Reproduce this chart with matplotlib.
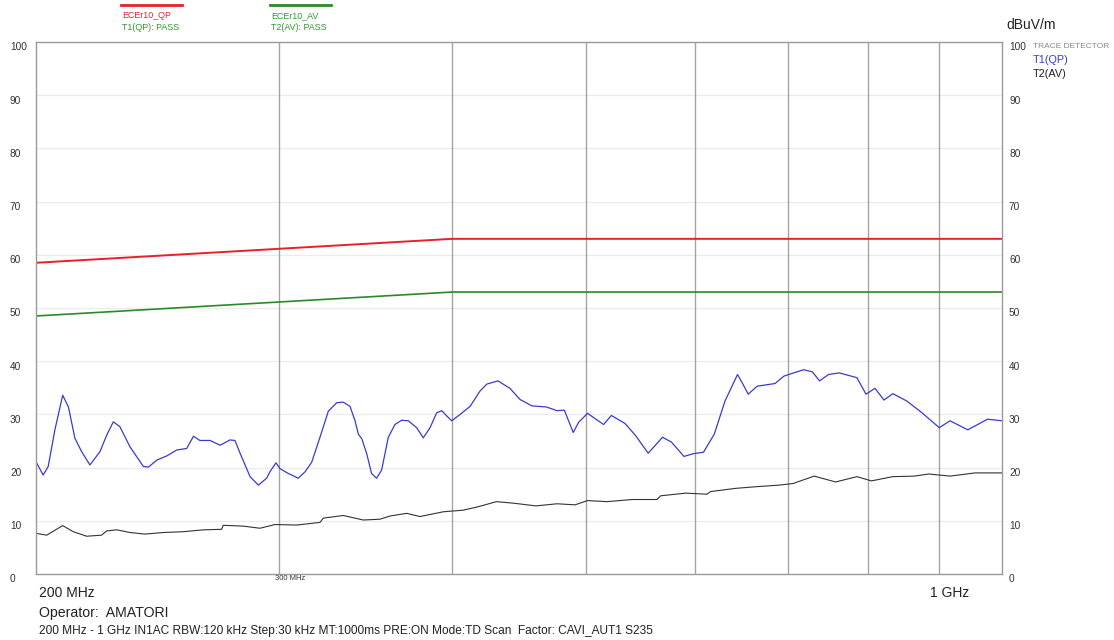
import matplotlib
matplotlib.use('Agg')
import matplotlib.pyplot as plt
import matplotlib.transforms as mtransforms

plt.rcParams['font.family'] = ['Liberation Sans', 'DejaVu Sans']

# limit lines (MHz, dBuV/m)
limit_freq = [200, 400, 1000]
limit_qp = [58.5, 63, 63]
limit_av = [48.5, 53, 53]

# T1(QP) trace
qp_freq = [200, 202.4, 204.1, 206.4, 209.1, 211.1, 213.4, 215.8, 218.8, 222.5,
           225.0, 227.5, 230.0, 233.9, 239.2, 241.2, 244.6, 248.7, 252.8, 257.1,
           260.0, 262.8, 267.3, 271.8, 276.3, 278.6, 281.0, 285.7, 289.7, 293.7,
           295.3, 298.3, 300.3, 304.5, 309.6, 313.1, 316.6, 321.0, 325.5, 330.1,
           333.7, 337.5, 340.3, 342.2, 344.2, 347.0, 349.8, 352.7, 355.7, 359.7,
           363.7, 367.8, 371.9, 377.1, 381.3, 385.6, 389.9, 393.2, 396.5, 399.8,
           405.4, 412.2, 419.1, 423.9, 431.8, 440.5, 448.0, 457.0, 468.1, 476.4,
           482.3, 489.5, 493.9, 501.3, 514.9, 521.6, 533.6, 543.2, 554.6, 568.0,
           576.5, 588.7, 597.5, 608.2, 619.2, 630.3, 643.6, 649.4, 655.2, 665.0,
           685.1, 695.4, 718.4, 729.1, 737.9, 749.0, 762.5, 785.3, 797.2, 809.3,
           821.5, 833.7, 853.5, 874.3, 900.8, 917.0, 944.7, 976.1, 1000]
qp_level = [21.1, 18.6, 20.2, 27.1, 33.6, 31.4, 25.5, 23.0, 20.5, 23.0,
            26.1, 28.6, 27.7, 23.9, 20.2, 20.1, 21.4, 22.2, 23.3, 23.6,
            25.9, 25.1, 25.1, 24.2, 25.2, 25.1, 22.7, 18.3, 16.7, 18.0,
            19.2, 20.9, 19.8, 18.9, 18.0, 19.2, 21.0, 25.7, 30.6, 32.2,
            32.3, 31.5, 28.8, 26.3, 25.4, 22.6, 18.9, 18.0, 19.5, 25.7,
            28.1, 28.9, 28.8, 27.5, 25.6, 27.5, 30.3, 30.7, 29.7, 28.8,
            30.0, 31.5, 34.4, 35.7, 36.3, 34.9, 32.8, 31.6, 31.4, 30.7,
            30.8, 26.6, 28.5, 30.2, 28.1, 29.8, 28.3, 26.0, 22.7, 25.7,
            24.8, 22.1, 22.6, 22.9, 26.3, 32.5, 37.5, 35.7, 33.8, 35.3,
            35.8, 37.2, 38.4, 38.0, 36.3, 37.5, 37.8, 36.9, 33.8, 34.9,
            32.7, 33.9, 32.5, 30.4, 27.5, 28.8, 27.1, 29.1, 28.8]

# T2(AV) trace
av_freq = [200, 203.6, 209.1, 212.8, 217.6, 223.1, 225.0, 228.8, 233.9, 239.8,
           247.3, 255.6, 264.3, 272.5, 273.2, 282.5, 290.5, 297.8, 308.8, 321.0,
           322.8, 333.7, 345.0, 354.8, 360.7, 370.9, 379.2, 394.3, 407.6, 417.9,
           430.7, 443.7, 459.9, 476.4, 491.0, 501.3, 517.8, 539.9, 562.8, 566.3,
           590.4, 611.7, 615.5, 641.7, 663.1, 689.3, 705.8, 731.3, 757.9, 785.3,
           804.4, 833.7, 864.2, 885.0, 917.0, 955.9, 1000]
av_level = [7.65, 7.3, 9.1, 7.95, 7.1, 7.3, 8.1, 8.3, 7.8, 7.5,
            7.8, 7.95, 8.3, 8.4, 9.15, 9.0, 8.6, 9.3, 9.2, 9.7,
            10.5, 11.0, 10.15, 10.3, 10.9, 11.4, 10.8, 11.7, 12.0, 12.65,
            13.6, 13.3, 12.8, 13.2, 13.0, 13.8, 13.6, 14.0, 14.0, 14.7,
            15.2, 15.0, 15.5, 16.1, 16.4, 16.7, 17.0, 18.4, 17.3, 18.3,
            17.5, 18.3, 18.4, 18.8, 18.4, 19.0, 19.0]

grid_freq = [300, 400, 500, 600, 700, 800, 900]
y_ticks = list(range(0, 101, 10))

W, H = 1114, 640
fig = plt.figure(figsize=(W / 100, H / 100), dpi=100)
ax = fig.add_axes([36 / W, 1 - 574 / H, (1002 - 36) / W, (574 - 42) / H])

ax.set_xscale('log')
ax.set_xlim(200, 1000)
ax.set_ylim(0, 100)
ax.set_xticks([])
ax.set_yticks([])
ax.minorticks_off()
for s in ax.spines.values():
    s.set_color('#9a9a9a')
    s.set_linewidth(1)

for v in y_ticks[1:-1]:
    ax.axhline(v, color='#ececec', lw=1, zorder=0)
for f in grid_freq:
    ax.axvline(f, color='#a4a4a4', lw=1, zorder=0)

ax.plot(limit_freq, limit_qp, color='#e8202a', lw=1.4)
ax.plot(limit_freq, limit_av, color='#2a8a2a', lw=1.2)
ax.plot(qp_freq, qp_level, color='#3a3ad0', lw=0.9)
ax.plot(av_freq, av_level, color='#333333', lw=0.8)

# y labels both sides
left_tr = mtransforms.blended_transform_factory(fig.transFigure, ax.transData)
for v in y_ticks:
    ax.text(10 / W, v - 1.0, str(v), transform=left_tr, fontsize=7.3,
            ha='left', va='center', color='#333333')
    ax.text(1009 / W, v - 1.0, str(v), transform=left_tr, fontsize=7.3,
            ha='left', va='center', color='#333333')

# top legend
fig.add_artist(plt.Line2D([121 / W, 182 / W], [1 - 5 / H] * 2, color='#e8202a', lw=2))
fig.add_artist(plt.Line2D([270 / W, 331 / W], [1 - 5 / H] * 2, color='#2a8a2a', lw=2))
fig.text(122 / W, 1 - 16 / H, 'ECEr10_QP', color='#e8202a', fontsize=6.4, va='center')
fig.text(122 / W, 1 - 28 / H, 'T1(QP): PASS', color='#2a9a2a', fontsize=6.4, va='center')
fig.text(271 / W, 1 - 16 / H, 'ECEr10_AV', color='#2a9a2a', fontsize=6.4, va='center')
fig.text(271 / W, 1 - 28 / H, 'T2(AV): PASS', color='#2a9a2a', fontsize=6.4, va='center')

# right side
fig.text(1006 / W, 1 - 25 / H, 'dBuV/m', fontsize=10, va='center', color='#222222')
fig.text(1033 / W, 1 - 46 / H, 'TRACE DETECTOR', fontsize=6.0, va='center', color='#888888')
fig.text(1033 / W, 1 - 60 / H, 'T1(QP)', fontsize=7.8, va='center', color='#3a3ad0')
fig.text(1033 / W, 1 - 74 / H, 'T2(AV)', fontsize=7.8, va='center', color='#222222')

# bottom texts
fig.text(39 / W, 1 - 593 / H, '200 MHz', fontsize=10, va='center', color='#222222')
fig.text(930 / W, 1 - 593 / H, '1 GHz', fontsize=10, va='center', color='#222222')
bot_tr = mtransforms.blended_transform_factory(ax.transData, fig.transFigure)
ax.text(298, 1 - 579 / H, '300 MHz', transform=bot_tr, fontsize=5.5, va='center', color='#333333')
fig.text(39 / W, 1 - 613 / H, 'Operator:  AMATORI', fontsize=10.2, va='center', color='#222222')
fig.text(39 / W, 1 - 631 / H,
         '200 MHz - 1 GHz IN1AC RBW:120 kHz Step:30 kHz MT:1000ms PRE:ON Mode:TD Scan  Factor: CAVI_AUT1 S235',
         fontsize=8.6, va='center', color='#222222')

fig.savefig('out.png', dpi=100)
